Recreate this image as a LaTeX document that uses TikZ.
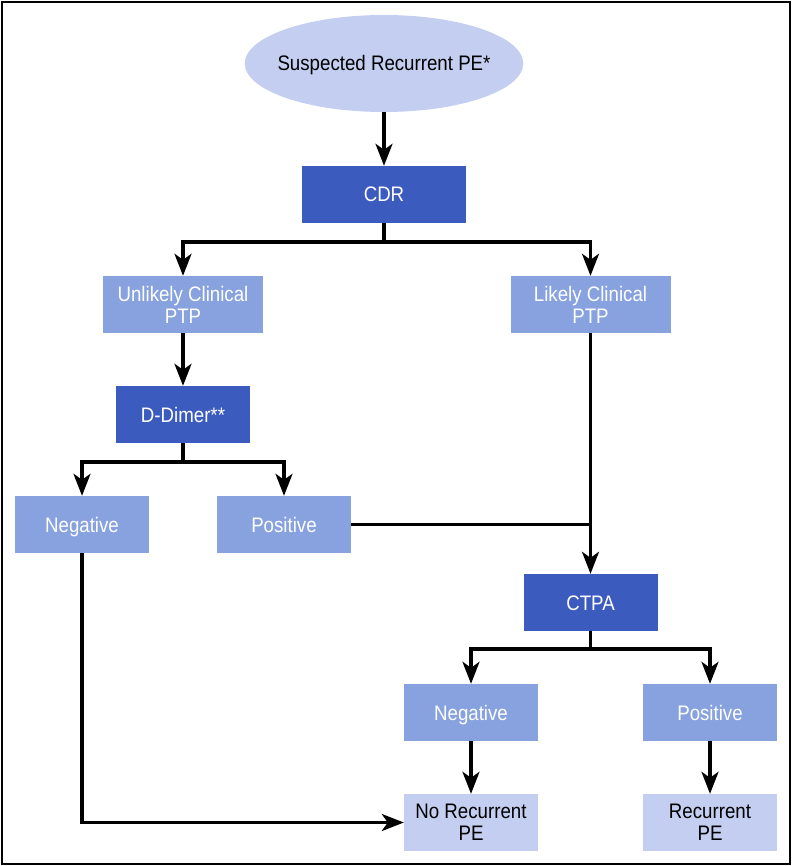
\documentclass[tikz,border=0pt]{standalone}
\usepackage{fontspec}
\setmainfont{Liberation Sans}[FakeStretch=0.89]
\usepackage{tikz}
\usetikzlibrary{positioning, shapes.geometric, arrows.meta}
\definecolor{darkblue}{HTML}{3B5BBF}
\definecolor{midblue}{HTML}{87A2DF}
\definecolor{lightblue}{HTML}{C4CEF0}

\begin{document}
\begin{tikzpicture}[x=1pt, y=-1pt,
	box/.style={rectangle, minimum width=134pt, minimum height=57pt, inner sep=0pt, align=center, font=\fontsize{21}{22}\selectfont},
	oneline/.style={text height=15pt, text depth=0pt},
	darkbox/.style={box, oneline, fill=darkblue, text=white},
	midbox/.style={box, fill=midblue, text=white},
	lightbox/.style={box, fill=lightblue, text=black},
	flow/.style={-{Stealth[length=22pt, width=17pt, inset=6pt]}, line width=3.2pt},
	link/.style={line width=3.2pt}]
	\useasboundingbox (0,0) rectangle (794,866);
	\draw[line width=2.5pt] (2,2) rectangle (790,864);
	
	% Nodes
	\node[ellipse, fill=lightblue, minimum width=278pt, minimum height=97pt, inner xsep=-8pt, inner ysep=0pt, oneline, font=\fontsize{21}{22}\selectfont] (start) at (384,63.5) {Suspected Recurrent PE*};
	\node[darkbox, minimum width=164pt] (cdr) at (384,194.5) {CDR};
	\node[midbox, minimum width=160pt] (unlikely) at (183,304.5) {Unlikely Clinical\\PTP};
	\node[midbox, minimum width=160pt] (likely) at (590.5,304.5) {Likely Clinical\\PTP};
	\node[darkbox] (ddimer) at (183,414.5) {D-Dimer**};
	\node[midbox, oneline] (ddneg) at (82,524.5) {Negative};
	\node[midbox, oneline] (ddpos) at (284,524.5) {Positive};
	\node[darkbox] (ctpa) at (590.5,602.5) {CTPA};
	\node[midbox, oneline] (ctneg) at (471,712.5) {Negative};
	\node[midbox, oneline] (ctpos) at (710,712.5) {Positive};
	\node[lightbox] (norec) at (471,822.5) {No Recurrent\\PE};
	\node[lightbox] (rec) at (710,822.5) {Recurrent\\PE};
	
	% Junctions
	\coordinate (cdrsplit) at (384,242);
	\coordinate (ddsplit) at (183,462);
	\coordinate (ctsplit) at (590.5,649);
	
	% Connectors
	\draw[flow] (start) -- (cdr);
	\draw[flow] (cdr.south) -- (cdrsplit) -| (unlikely.north);
	\draw[flow] (cdrsplit) -| (likely.north);
	\draw[flow] (unlikely) -- (ddimer);
	\draw[flow] (ddimer.south) -- (ddsplit) -| (ddneg.north);
	\draw[flow] (ddsplit) -| (ddpos.north);
	\draw[flow] (likely) -- (ctpa);
	\draw[link] (ddpos.east) -- (ddpos.east -| likely.south);
	\draw[flow] (ctpa.south) -- (ctsplit) -| (ctneg.north);
	\draw[flow] (ctsplit) -| (ctpos.north);
	\draw[flow] (ctneg) -- (norec);
	\draw[flow] (ctpos) -- (rec);
	\draw[flow] (ddneg.south) |- (norec.west);
\end{tikzpicture}
\end{document}
